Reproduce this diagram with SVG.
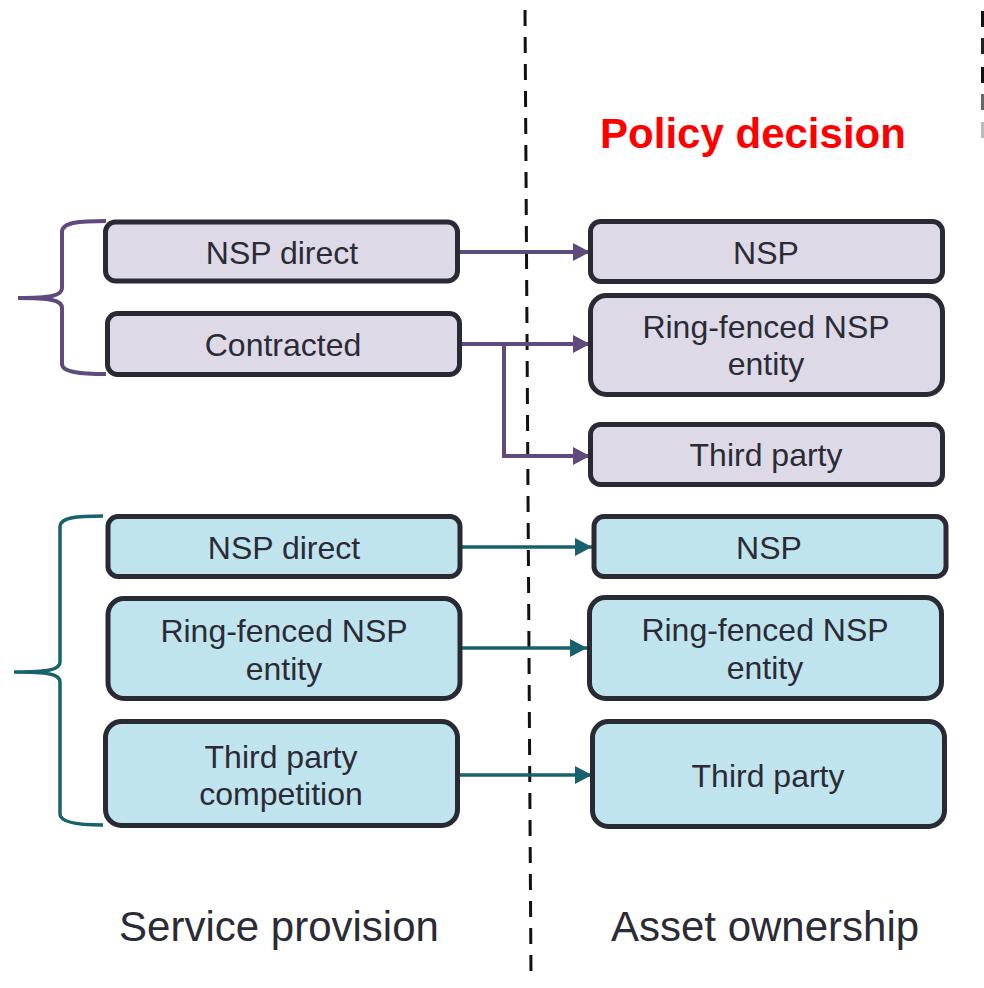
<svg xmlns="http://www.w3.org/2000/svg" width="984" height="988" viewBox="0 0 984 988">
<style>
.bx{stroke:#2a2a35;stroke-width:5}
.pu{fill:#ddd9e6}
.te{fill:#c0e4ed}
.t{font-family:"Liberation Sans",Arial,sans-serif;font-size:32px;fill:#2b2b36;text-anchor:middle}
.lab{font-family:"Liberation Sans",Arial,sans-serif;font-size:42px;fill:#2b2b36;text-anchor:middle}
.ttl{font-family:"Liberation Sans",Arial,sans-serif;font-size:42px;font-weight:bold;fill:#ff0000;text-anchor:middle}
.cp{fill:none;stroke:#5e4a7d;stroke-width:4}
.ct{fill:none;stroke:#1a616e;stroke-width:3.5}
</style>
<defs>
<marker id="ap" markerUnits="userSpaceOnUse" markerWidth="17" markerHeight="18" refX="17" refY="9" orient="auto"><path d="M0,0 L17,9 L0,18 Z" fill="#5e4a7d"/></marker>
<marker id="at" markerUnits="userSpaceOnUse" markerWidth="17" markerHeight="18" refX="17" refY="9" orient="auto"><path d="M0,0 L17,9 L0,18 Z" fill="#1a616e"/></marker>
</defs>
<rect width="984" height="988" fill="#ffffff"/>

<g id="marks">
<rect x="981" y="11" width="3" height="16" fill="#111"/>
<rect x="981" y="38" width="3" height="16" fill="#222"/>
<rect x="981" y="67" width="3" height="16" fill="#111"/>
<rect x="981" y="94" width="3" height="16" fill="#666"/>
<rect x="981" y="122" width="3" height="16" fill="#bbb"/>
</g>

<g id="divider">
<line x1="525" y1="10" x2="531" y2="978" stroke="#111" stroke-width="3" stroke-dasharray="16 11"/>
</g>

<g id="title"><text class="ttl" x="753" y="148">Policy decision</text></g>
<g id="label-service"><text class="lab" x="279" y="941">Service provision</text></g>
<g id="label-asset"><text class="lab" x="765" y="941">Asset ownership</text></g>

<g id="braces">
<path class="cp" d="M106,221 C80,221 62,222 62,232 L62,288 C62,296 50,298 18,298 C50,298 62,300 62,308 L62,364 C62,372 80,374 106,374"/>
<path class="ct" d="M103,516 C78,516 60,517 60,527 L60,662 C60,670 48,672 14,672 C48,672 60,674 60,682 L60,814 C60,822 78,825 103,825"/>
</g>

<g id="connectors">
<line class="cp" x1="458" y1="252" x2="590" y2="252" marker-end="url(#ap)"/>
<line class="cp" x1="460" y1="344" x2="590" y2="344" marker-end="url(#ap)"/>
<polyline class="cp" points="504,344 504,456 590,456" marker-end="url(#ap)"/>
<line class="ct" x1="462" y1="547" x2="592" y2="547" marker-end="url(#at)"/>
<line class="ct" x1="460" y1="648" x2="587" y2="648" marker-end="url(#at)"/>
<line class="ct" x1="458" y1="775" x2="592" y2="775" marker-end="url(#at)"/>
</g>

<g id="sp-nsp-direct"><rect class="bx pu" x="105.5" y="222" width="352" height="59" rx="10"/><text class="t" x="282" y="264">NSP direct</text></g>
<g id="sp-contracted"><rect class="bx pu" x="107.5" y="313.5" width="352" height="61" rx="10"/><text class="t" x="283" y="356">Contracted</text></g>
<g id="ao-nsp-1"><rect class="bx pu" x="590.5" y="221.5" width="352" height="60" rx="10"/><text class="t" x="766" y="264">NSP</text></g>
<g id="ao-ring-1"><rect class="bx pu" x="590.5" y="295.5" width="352" height="99" rx="16"/><text class="t" x="766" y="338">Ring-fenced NSP</text><text class="t" x="766" y="375">entity</text></g>
<g id="ao-third-1"><rect class="bx pu" x="590.5" y="424.5" width="352" height="60" rx="10"/><text class="t" x="766" y="466">Third party</text></g>

<g id="sp-nsp-direct-2"><rect class="bx te" x="108" y="516.5" width="352" height="60" rx="10"/><text class="t" x="284" y="559">NSP direct</text></g>
<g id="sp-ring-2"><rect class="bx te" x="108" y="598.5" width="352" height="100" rx="16"/><text class="t" x="284" y="642">Ring-fenced NSP</text><text class="t" x="284" y="680">entity</text></g>
<g id="sp-third-2"><rect class="bx te" x="105.5" y="721.5" width="352" height="104" rx="16"/><text class="t" x="281" y="768">Third party</text><text class="t" x="281" y="805">competition</text></g>
<g id="ao-nsp-2"><rect class="bx te" x="594" y="516.5" width="352" height="60" rx="10"/><text class="t" x="769" y="559">NSP</text></g>
<g id="ao-ring-2"><rect class="bx te" x="589.5" y="597.5" width="352" height="101" rx="16"/><text class="t" x="765" y="641">Ring-fenced NSP</text><text class="t" x="765" y="679">entity</text></g>
<g id="ao-third-2"><rect class="bx te" x="592.5" y="721.5" width="352" height="105" rx="16"/><text class="t" x="768" y="787">Third party</text></g>
</svg>
